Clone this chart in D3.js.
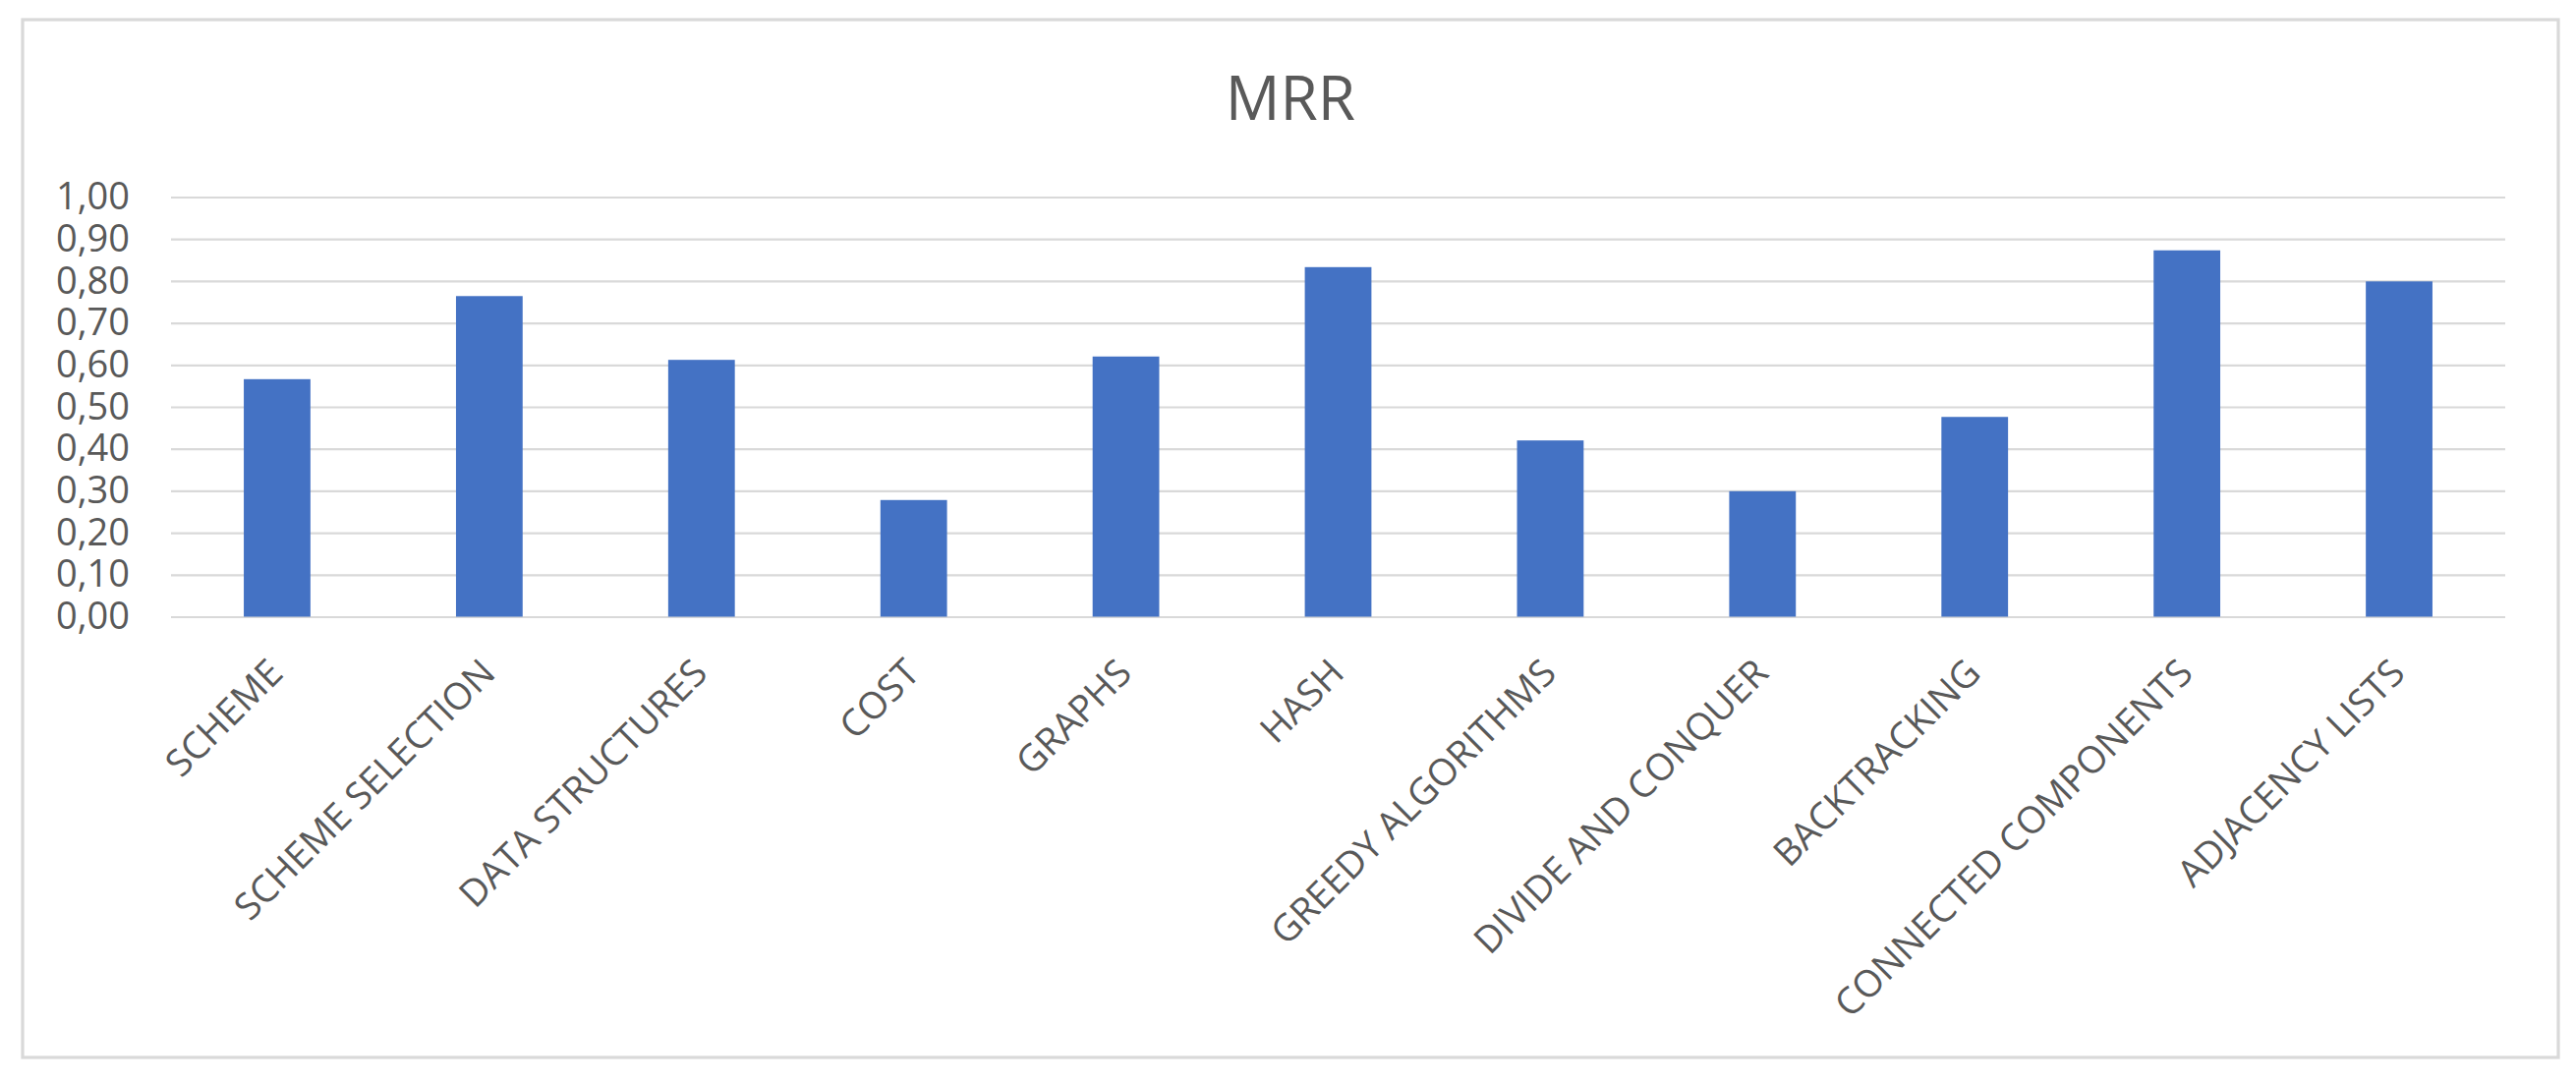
<!DOCTYPE html>
<html>
<head>
<meta charset="utf-8">
<script src="https://cdn.jsdelivr.net/npm/d3@7"></script>
<style>
  html, body { margin: 0; padding: 0; background: #ffffff; }
  svg { display: block; }
</style>
</head>
<body>
<div id="chart"></div>
<script>
const chartTitle = "MRR";
const categories = [
  "SCHEME", "SCHEME SELECTION", "DATA STRUCTURES", "COST", "GRAPHS", "HASH",
  "GREEDY ALGORITHMS", "DIVIDE AND CONQUER", "BACKTRACKING",
  "CONNECTED COMPONENTS", "ADJACENCY LISTS"
];
const mrrValues = [0.566, 0.764, 0.612, 0.278, 0.620, 0.833, 0.420, 0.299, 0.476, 0.873, 0.799];
const yTickValues = [0, 0.1, 0.2, 0.3, 0.4, 0.5, 0.6, 0.7, 0.8, 0.9, 1.0];

const W = 2621, H = 1102;
const plot = { left: 174, right: 2549, top: 200.5, bottom: 627.5 };
const textColor = "#595959";
const gridColor = "#d9d9d9";
const barColor = "#4472C4";
const fontFamily = "'Open Sans', 'Noto Sans', sans-serif";

const svg = d3.select("#chart").append("svg")
  .attr("width", W).attr("height", H)
  .attr("viewBox", `0 0 ${W} ${H}`);

svg.append("rect").attr("x", 0).attr("y", 0).attr("width", W).attr("height", H).attr("fill", "#ffffff");

// chart border
svg.append("rect")
  .attr("x", 23).attr("y", 20)
  .attr("width", 2580).attr("height", 1056)
  .attr("fill", "none").attr("stroke", gridColor).attr("stroke-width", 3.2);

// title
svg.append("text")
  .attr("x", 1313).attr("y", 121.5)
  .attr("text-anchor", "middle")
  .attr("font-family", fontFamily).attr("font-size", 62)
  .attr("fill", textColor)
  .text(chartTitle);

const x = d3.scaleBand()
  .domain(categories)
  .range([plot.left, plot.right])
  .paddingInner(0.686)
  .paddingOuter(0.343);

const y = d3.scaleLinear().domain([0, 1]).range([plot.bottom, plot.top]);

const locale = d3.formatLocale({ decimal: ",", thousands: ".", grouping: [3], currency: ["", "€"] });
const fmt = locale.format(".2f");

// gridlines
const grid = svg.append("g")
  .attr("transform", `translate(${plot.left},0)`)
  .call(d3.axisLeft(y).tickValues(yTickValues).tickSize(-(plot.right - plot.left)).tickFormat(""));
grid.select(".domain").remove();
grid.selectAll("line").attr("stroke", gridColor).attr("stroke-width", 2.2);

// y axis labels
const yAxis = svg.append("g")
  .attr("transform", `translate(${plot.left},0)`)
  .call(d3.axisLeft(y).tickValues(yTickValues).tickSize(0).tickPadding(42).tickFormat(fmt));
yAxis.select(".domain").remove();
yAxis.selectAll("text")
  .attr("font-family", fontFamily).attr("font-size", 38)
  .attr("fill", textColor);

// bars
svg.append("g").selectAll("rect")
  .data(categories.map((c, i) => ({ c, v: mrrValues[i] })))
  .join("rect")
  .attr("x", d => x(d.c))
  .attr("y", d => y(d.v))
  .attr("width", x.bandwidth())
  .attr("height", d => y(0) - y(d.v))
  .attr("fill", barColor);

// x axis labels
const xAxis = svg.append("g")
  .attr("transform", `translate(0,${plot.bottom})`)
  .call(d3.axisBottom(x).tickSize(0));
xAxis.select(".domain").remove();
xAxis.selectAll("text")
  .attr("font-family", fontFamily).attr("font-size", 38)
  .attr("fill", textColor)
  .attr("text-anchor", "end")
  .attr("x", 0).attr("y", 0).attr("dy", 0)
  .attr("transform", "translate(8,59.5) rotate(-45)");
</script>
</body>
</html>
